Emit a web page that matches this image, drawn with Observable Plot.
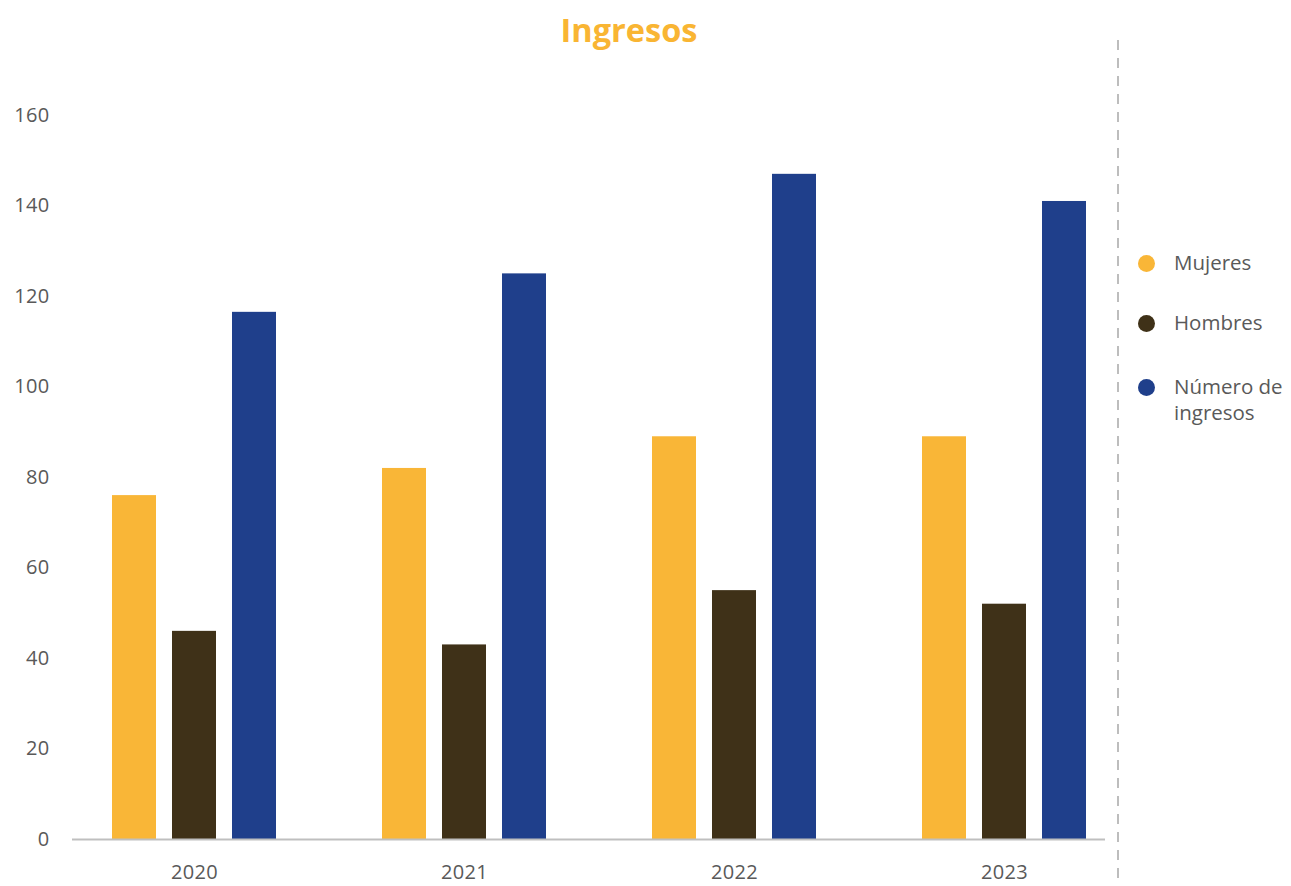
<!DOCTYPE html>
<html>
<head>
<meta charset="utf-8">
<script src="https://cdn.jsdelivr.net/npm/d3@7"></script>
<script src="https://cdn.jsdelivr.net/npm/@observablehq/plot@0.6"></script>
<style>
  html, body { margin: 0; padding: 0; background: #fff; }
  #wrap { position: relative; width: 1291px; height: 886px; font-family: "Open Sans", sans-serif; }
  #title { position: absolute; left: 0; width: 1258px; top: 7px; text-align: center; font-weight: 700; font-size: 32.5px; color: #F9B533; }
  #divider { position: absolute; left: 1110px; top: 40px; }
  #legend { position: absolute; left: 1138px; top: 249px; color: #595959; font-size: 20.5px; }
  .item { position: absolute; left: 0; display: flex; align-items: flex-start; white-space: nowrap; }
  .dot { width: 17px; height: 17px; border-radius: 50%; margin-top: 6px; margin-right: 19px; flex: none; }
  .lbl { line-height: 26px; }
  #chart { position: absolute; left: 0; top: 0; }
</style>
</head>
<body>
<div id="wrap">
  <div id="chart"></div>
  <div id="title">Ingresos</div>
  <svg id="divider" width="16" height="846"><line x1="8" x2="8" y1="0" y2="846" stroke="#BDBDBD" stroke-width="2" stroke-dasharray="10,8"/></svg>
  <div id="legend"></div>
</div>
<script>
const years = ["2020", "2021", "2022", "2023"];
const series = ["Mujeres", "Hombres", "Número de ingresos"];
const legendLabels = ["Mujeres", "Hombres", "Número de<br>ingresos"];
const colors = ["#F9B637", "#3F3118", "#1F3F8B"];
const mujeres = [76, 82, 89, 89];
const hombres = [46, 43, 55, 52];
const numero = [116.5, 125, 147, 141];
const yTicks = [0, 20, 40, 60, 80, 100, 120, 140, 160];

const seriesValues = [mujeres, hombres, numero];
const data = [];
years.forEach((yr, i) => {
  series.forEach((s, j) => data.push({year: yr, serie: s, value: seriesValues[j][i]}));
});
const base = years.map(yr => ({year: yr, value: 0}));

const plot = Plot.plot({
  width: 1291,
  height: 886,
  marginLeft: 59,
  marginRight: 152,
  marginTop: 115,
  marginBottom: 47,
  style: {fontFamily: "Open Sans, sans-serif", fontSize: "20px", color: "#595959", background: "transparent", letterSpacing: "0.3px"},
  fx: {domain: years, padding: 0, label: null, tickSize: 0, tickPadding: 25, axis: "bottom"},
  x: {domain: series, paddingInner: 0.27, paddingOuter: 0.88, axis: null},
  y: {domain: [0, 160], ticks: yTicks, tickSize: 0, tickPadding: 10, label: null, axis: "left"},
  color: {domain: series, range: colors},
  marks: [
    Plot.barY(data, {fx: "year", x: "serie", y: "value", fill: "serie"}),
    Plot.ruleY(base.slice(0, 1), {fx: "year", y: "value", stroke: "#BFBFBF", strokeWidth: 2, insetLeft: 13}),
    Plot.ruleY(base.slice(1, 3), {fx: "year", y: "value", stroke: "#BFBFBF", strokeWidth: 2}),
    Plot.ruleY(base.slice(3), {fx: "year", y: "value", stroke: "#BFBFBF", strokeWidth: 2, insetRight: 34})
  ]
});
document.getElementById("chart").appendChild(plot);

const legend = document.getElementById("legend");
series.forEach((s, j) => {
  const item = document.createElement("div");
  item.className = "item";
  item.style.top = [0, 60, 124][j] + "px";
  item.innerHTML = `<span class="dot" style="background:${colors[j]}"></span><span class="lbl">${legendLabels[j]}</span>`;
  legend.appendChild(item);
});
</script>
</body>
</html>
